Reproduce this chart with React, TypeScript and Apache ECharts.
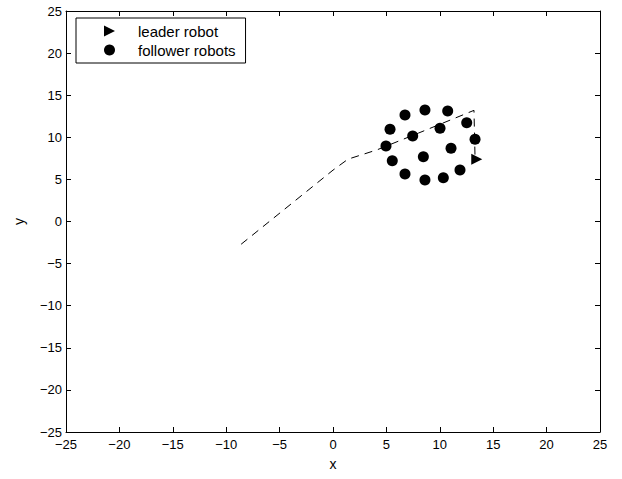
import React, { useEffect, useRef } from "react";
import * as echarts from "echarts";

// Axis settings
const axisMin = -25;
const axisMax = 25;
const axisStep = 5;

// Dashed leader trajectory
const pathX = [-8.6, 0.0, 1.4, 4.1, 8.0, 13.2, 13.3];
const pathY = [-2.7, 6.1, 7.4, 8.5, 10.5, 13.2, 7.6];

// Leader robot position
const leaderX = [13.46];
const leaderY = [7.39];

// Follower robots
const followerX = [8.61, 10.74, 6.74, 12.52, 5.34, 10.02, 7.46, 13.3, 4.96, 11.05, 8.46, 5.55, 11.89, 6.74, 10.33, 8.61];
const followerY = [13.24, 13.12, 12.65, 11.73, 10.95, 11.07, 10.15, 9.76, 8.97, 8.69, 7.7, 7.22, 6.12, 5.64, 5.2, 4.93];

const legendNames = ["leader robot", "follower robots"];
const xName = "x";
const yName = "y";

const FONT = "'Liberation Sans', Arial, Helvetica, sans-serif";
const TRI = "path://M0,0L10,5L0,10Z";

const fmt = (v: number) => String(v).replace("-", "\u2212");

export default function App() {
  const ref = useRef<HTMLDivElement>(null);
  useEffect(() => {
    if (!ref.current) return;
    const chart = echarts.init(ref.current, undefined, { renderer: "svg" });
    const axisCommon = {
      type: "value" as const,
      min: axisMin,
      max: axisMax,
      interval: axisStep,
      splitLine: { show: false },
      axisLine: { show: true, onZero: false, lineStyle: { color: "#000", width: 1 } },
      axisTick: { show: true, inside: true, length: 5, lineStyle: { color: "#000", width: 1 } },
    };
    chart.setOption({
      animation: false,
      backgroundColor: "#fff",
      grid: { left: 66, right: 22, top: 11, bottom: 47, containLabel: false },
      xAxis: [
        {
          ...axisCommon,
          position: "bottom",
          axisLabel: { color: "#000", fontSize: 13, fontFamily: FONT, margin: 6, formatter: fmt },
          name: xName,
          nameLocation: "middle",
          nameGap: 25,
          nameTextStyle: { color: "#000", fontSize: 14, fontFamily: FONT },
        },
        {
          ...axisCommon,
          position: "top",
          axisLabel: { show: false },
        },
      ],
      yAxis: [
        {
          ...axisCommon,
          position: "left",
          axisLabel: { color: "#000", fontSize: 13, fontFamily: FONT, margin: 4, formatter: fmt },
          name: yName,
          nameLocation: "middle",
          nameGap: 40,
          nameTextStyle: { color: "#000", fontSize: 14, fontFamily: FONT },
        },
        {
          ...axisCommon,
          position: "right",
          axisLabel: { show: false },
        },
      ],
      legend: {
        orient: "vertical",
        left: 76,
        top: 18,
        data: [
          { name: legendNames[0], icon: TRI },
          { name: legendNames[1], icon: "circle" },
        ],
        itemWidth: 11,
        itemHeight: 11,
        itemGap: 3,
        borderColor: "#000",
        borderWidth: 1,
        borderRadius: 0,
        padding: [5, 10, 5, 28],
        selectedMode: false,
        itemStyle: { opacity: 1 },
        textStyle: { color: "#000", fontSize: 15, fontFamily: FONT, lineHeight: 16, padding: [0, 0, 0, 18] },
      },
      series: [
        {
          name: "trajectory",
          type: "line",
          xAxisIndex: 0,
          yAxisIndex: 0,
          data: pathX.map((x, i) => [x, pathY[i]]),
          showSymbol: false,
          symbol: "none",
          lineStyle: { color: "#000", width: 1, type: [8, 6] },
          silent: true,
        },
        {
          name: legendNames[1],
          type: "scatter",
          xAxisIndex: 0,
          yAxisIndex: 0,
          data: followerX.map((x, i) => [x, followerY[i]]),
          symbol: "circle",
          symbolSize: 11,
          itemStyle: { color: "#000", opacity: 1 },
        },
        {
          name: legendNames[0],
          type: "scatter",
          xAxisIndex: 0,
          yAxisIndex: 0,
          data: leaderX.map((x, i) => [x, leaderY[i]]),
          symbol: TRI,
          symbolSize: 11,
          itemStyle: { color: "#000", opacity: 1 },
        },
      ],
    });
    return () => chart.dispose();
  }, []);
  return (
    <div
      ref={ref}
      style={{ position: "fixed", left: 0, top: 0, width: 622, height: 479, background: "#fff" }}
    />
  );
}
